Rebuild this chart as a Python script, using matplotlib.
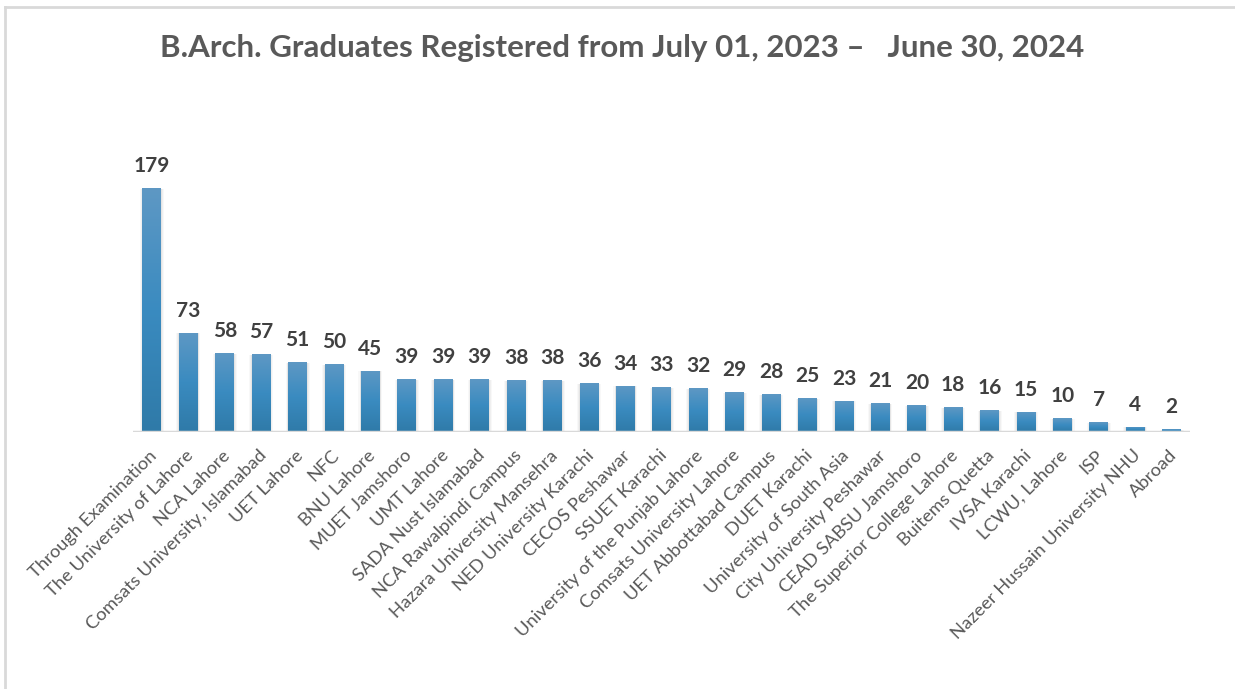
import numpy as np
import matplotlib
matplotlib.use("Agg")
import matplotlib.pyplot as plt
from matplotlib.colors import LinearSegmentedColormap
from matplotlib.lines import Line2D
import matplotlib.transforms as mtransforms

# data
institutes = [
    "Through Examination", "The University of Lahore", "NCA Lahore",
    "Comsats University, Islamabad", "UET Lahore", "NFC", "BNU Lahore",
    "MUET Jamshoro", "UMT Lahore", "SADA Nust Islamabad",
    "NCA Rawalpindi Campus", "Hazara University Mansehra",
    "NED University Karachi", "CECOS Peshawar", "SSUET Karachi",
    "University of the Punjab Lahore", "Comsats University Lahore",
    "UET Abbottabad Campus", "DUET Karachi", "University of South Asia",
    "City University Peshawar", "CEAD SABSU Jamshoro",
    "The Superior College Lahore", "Buitems Quetta", "IVSA Karachi",
    "LCWU, Lahore", "ISP", "Nazeer Hussain University NHU", "Abroad",
]
graduates = [179, 73, 58, 57, 51, 50, 45, 39, 39, 39, 38, 38, 36, 34, 33,
             32, 29, 28, 25, 23, 21, 20, 18, 16, 15, 10, 7, 4, 2]

title = "B.Arch. Graduates Registered from July 01, 2023 \u2013   June 30, 2024"

fig = plt.figure(figsize=(12.35, 6.89), dpi=100)
fig.patch.set_facecolor("white")

# outer frame (top and left edge visible in the reference)
fig.add_artist(Line2D([5 / 1235, 5 / 1235], [0, 1 - 7 / 689], color="#d9d9d9", lw=2))
fig.add_artist(Line2D([5 / 1235, 1], [1 - 7 / 689, 1 - 7 / 689], color="#d9d9d9", lw=2))

ax = fig.add_axes([133 / 1235, 257 / 689, (1190 - 133) / 1235, (432 - 100) / 689])
x = np.arange(len(graduates))
ymax = (432 - 100) / 1.363

w = 0.52
# soft shadow behind bars
for sw, a in [(0.66, 0.05), (0.60, 0.07), (0.56, 0.09)]:
    ax.bar(x, np.array(graduates) + 0.6, width=sw, bottom=-1.2, color="#808080",
           alpha=a, zorder=1, linewidth=0)

bars = ax.bar(x, graduates, width=w, color="#3a88bb", zorder=2, linewidth=0)

cmap = LinearSegmentedColormap.from_list("g", ["#2f7aa8", "#3a8bc0", "#5e98c4"])
grad = np.linspace(0, 1, 256).reshape(-1, 1)
for b in bars:
    x0, y0 = b.get_x(), b.get_y()
    im = ax.imshow(grad, cmap=cmap, origin="lower", aspect="auto",
                   extent=[x0, x0 + b.get_width(), y0, y0 + b.get_height()],
                   zorder=3)
    im.set_clip_path(b)
ax.set_xlim(-0.52, len(graduates) - 0.5)
ax.set_ylim(0, ymax)

for xi, v in zip(x, graduates):
    ax.annotate(str(v), (xi, v), xytext=(0, 12), textcoords="offset pixels",
                ha="center", va="bottom", fontsize=15, fontweight="bold",
                color="#404040", family=["Lato", "DejaVu Sans"])

# baseline
ax.axhline(0, color="#d9d9d9", lw=2.5, zorder=4)
for s in ax.spines.values():
    s.set_visible(False)
ax.set_yticks([])
ax.set_xticks(x, institutes, rotation=45, ha="right", rotation_mode="anchor",
              fontsize=13.2, color="#595959",
              family=["Lato", "DejaVu Sans"])
ax.tick_params(axis="x", length=0, pad=11)
offset = mtransforms.ScaledTranslation(-3 / 100, 0, fig.dpi_scale_trans)
for lbl in ax.get_xticklabels():
    lbl.set_transform(lbl.get_transform() + offset)

fig.text(622 / 1235, 1 - 48 / 689, title, ha="center", va="center",
         fontsize=22.5, fontweight="bold", color="#595959",
         family=["Lato", "DejaVu Sans"])

fig.savefig("out.png", dpi=100)
